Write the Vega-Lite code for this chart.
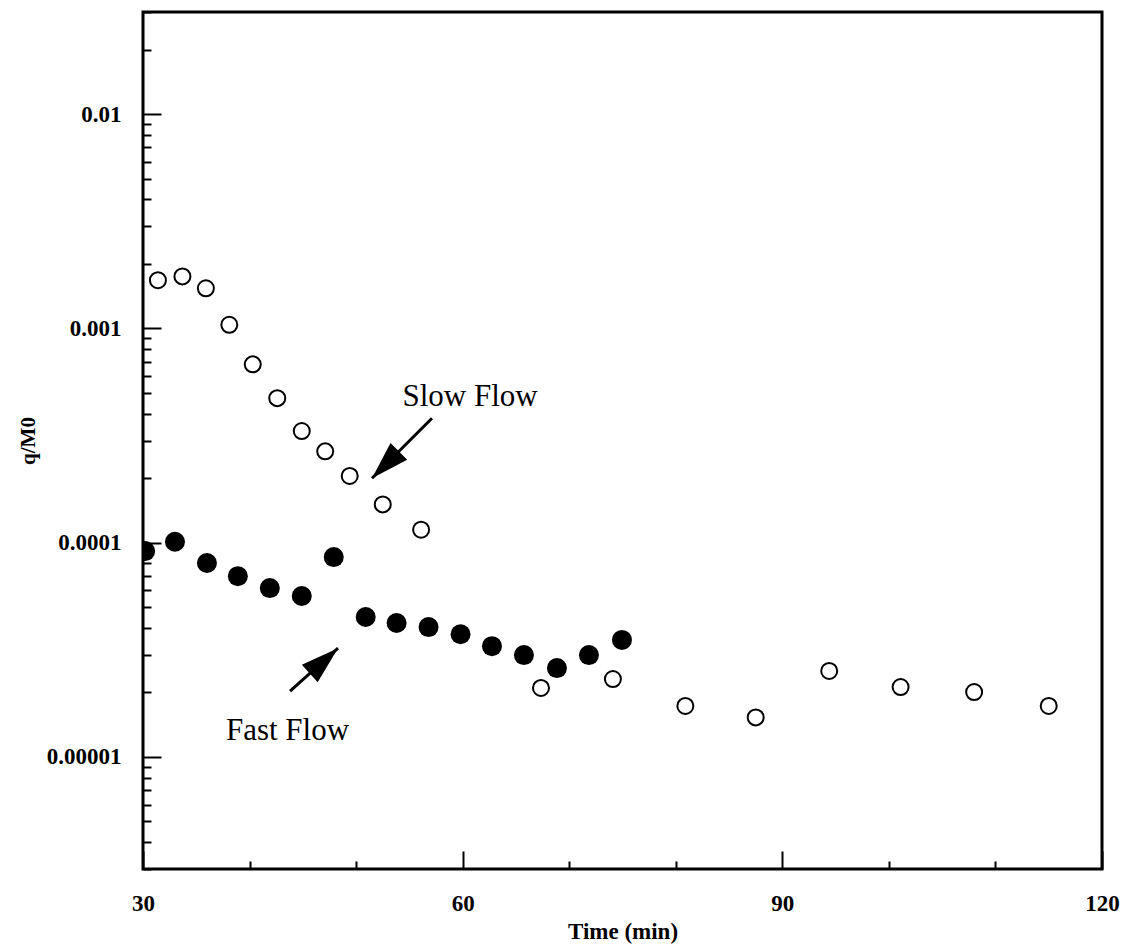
{
  "$schema": "https://vega.github.io/schema/vega-lite/v6.json",
  "width": 959,
  "height": 857,
  "autosize": {"type": "none"},
  "padding": {"left": 143, "top": 12, "right": 22, "bottom": 80},
  "background": "white",
  "config": {
    "font": "Liberation Serif",
    "view": {"stroke": "black", "strokeWidth": 3},
    "axis": {
      "domain": false,
      "grid": false,
      "tickColor": "black",
      "tickWidth": 2,
      "labelColor": "black",
      "titleColor": "black",
      "labelFont": "Liberation Serif",
      "titleFont": "Liberation Serif",
      "labelFontWeight": "bold",
      "titleFontWeight": "bold",
      "labelOverlap": false,
      "labelFlush": false
    }
  },
  "datasets": {
    "slow": [
      {"t": 31.4, "q": 0.00168},
      {"t": 33.7, "q": 0.00175},
      {"t": 35.9, "q": 0.00154},
      {"t": 38.1, "q": 0.00104},
      {"t": 40.3, "q": 0.00068},
      {"t": 42.6, "q": 0.000473},
      {"t": 44.9, "q": 0.000332},
      {"t": 47.1, "q": 0.000267},
      {"t": 49.4, "q": 0.000205},
      {"t": 52.5, "q": 0.000151},
      {"t": 56.1, "q": 0.000115},
      {"t": 67.35, "q": 0.000021},
      {"t": 74.1, "q": 0.0000231},
      {"t": 80.9, "q": 0.0000173},
      {"t": 87.5, "q": 0.0000153},
      {"t": 94.4, "q": 0.0000252},
      {"t": 101.1, "q": 0.0000212},
      {"t": 108.0, "q": 0.0000201},
      {"t": 115.0, "q": 0.0000173}
    ],
    "fast": [
      {"t": 30.2, "q": 0.0000914},
      {"t": 33.0, "q": 0.000101},
      {"t": 36.0, "q": 0.0000804},
      {"t": 38.9, "q": 0.0000698},
      {"t": 41.9, "q": 0.0000614},
      {"t": 44.9, "q": 0.0000564},
      {"t": 47.9, "q": 0.0000857},
      {"t": 50.9, "q": 0.000045},
      {"t": 53.8, "q": 0.0000422},
      {"t": 56.8, "q": 0.0000404},
      {"t": 59.8, "q": 0.0000374},
      {"t": 62.75, "q": 0.0000329},
      {"t": 65.75, "q": 0.0000299},
      {"t": 68.85, "q": 0.000026},
      {"t": 71.85, "q": 0.0000299},
      {"t": 74.95, "q": 0.0000352}
    ],
    "arrows": [
      {"t": 57.12, "q": 0.000381, "t2": 51.49, "q2": 0.0002},
      {"t": 43.8, "q": 0.0000203, "t2": 48.3, "q2": 0.0000322}
    ],
    "notes": [
      {"label": "Slow Flow", "t": 60.69, "q": 0.000434},
      {"label": "Fast Flow", "t": 43.56, "q": 0.000012}
    ]
  },
  "resolve": {"axis": {"x": "independent", "y": "independent"}},
  "layer": [
    {
      "data": {"name": "slow"},
      "mark": {"type": "point", "shape": "circle", "filled": false, "stroke": "black", "strokeWidth": 2, "size": 256, "opacity": 1, "clip": true},
      "encoding": {
        "x": {
          "field": "t",
          "type": "quantitative",
          "scale": {"domain": [30, 120], "nice": false, "zero": false},
          "axis": {
            "orient": "bottom",
            "values": [30, 60, 90, 120],
            "tickSize": -18,
            "labelFontSize": 23,
            "labelPadding": 41,
            "title": "Time (min)",
            "titleFontSize": 23,
            "titlePadding": 5
          }
        },
        "y": {
          "field": "q",
          "type": "quantitative",
          "scale": {"type": "log", "domain": [0.000003, 0.03], "nice": false},
          "axis": {
            "orient": "left",
            "values": [0.00001, 0.0001, 0.001, 0.01],
            "tickSize": -18,
            "labelExpr": "format(datum.value, '.5~f')",
            "labelFontSize": 23,
            "labelPadding": 40,
            "labelBaseline": "middle",
            "title": "q/M0",
            "titleFontSize": 21,
            "titlePadding": 8
          }
        }
      }
    },
    {
      "data": {"name": "fast"},
      "mark": {"type": "point", "shape": "circle", "filled": true, "fill": "black", "size": 400, "opacity": 1, "clip": true},
      "encoding": {
        "x": {
          "field": "t",
          "type": "quantitative",
          "axis": {
            "orient": "bottom",
            "values": [40, 50, 70, 80, 100, 110],
            "tickSize": -8,
            "labels": false,
            "title": null
          }
        },
        "y": {
          "field": "q",
          "type": "quantitative",
          "axis": {
            "orient": "left",
            "values": [0.000003, 0.000004, 0.000005, 0.000006, 0.000007, 0.000008, 0.000009,
                       0.00002, 0.00003, 0.00004, 0.00005, 0.00006, 0.00007, 0.00008, 0.00009,
                       0.0002, 0.0003, 0.0004, 0.0005, 0.0006, 0.0007, 0.0008, 0.0009,
                       0.002, 0.003, 0.004, 0.005, 0.006, 0.007, 0.008, 0.009,
                       0.02, 0.03],
            "tickSize": -8,
            "labels": false,
            "title": null
          }
        }
      }
    },
    {
      "data": {"name": "arrows"},
      "mark": {"type": "rule", "stroke": "black", "strokeWidth": 3},
      "encoding": {
        "x": {"field": "t", "type": "quantitative", "axis": null},
        "y": {"field": "q", "type": "quantitative", "axis": null},
        "x2": {"field": "t2"},
        "y2": {"field": "q2"}
      }
    },
    {
      "data": {"values": [{"t": 51.49, "q": 0.0002}]},
      "mark": {"type": "point", "shape": "M0,0L-2,-0.62L-2,0.62Z", "filled": true, "fill": "black", "size": 1444, "angle": 135, "opacity": 1},
      "encoding": {
        "x": {"field": "t", "type": "quantitative", "axis": null},
        "y": {"field": "q", "type": "quantitative", "axis": null}
      }
    },
    {
      "data": {"values": [{"t": 48.3, "q": 0.0000322}]},
      "mark": {"type": "point", "shape": "M0,0L-2,-0.62L-2,0.62Z", "filled": true, "fill": "black", "size": 1444, "angle": 318, "opacity": 1},
      "encoding": {
        "x": {"field": "t", "type": "quantitative", "axis": null},
        "y": {"field": "q", "type": "quantitative", "axis": null}
      }
    },
    {
      "data": {"name": "notes"},
      "mark": {"type": "text", "font": "Liberation Serif", "fontSize": 31, "align": "center", "baseline": "alphabetic", "color": "black"},
      "encoding": {
        "x": {"field": "t", "type": "quantitative", "axis": null},
        "y": {"field": "q", "type": "quantitative", "axis": null},
        "text": {"field": "label"}
      }
    }
  ]
}
